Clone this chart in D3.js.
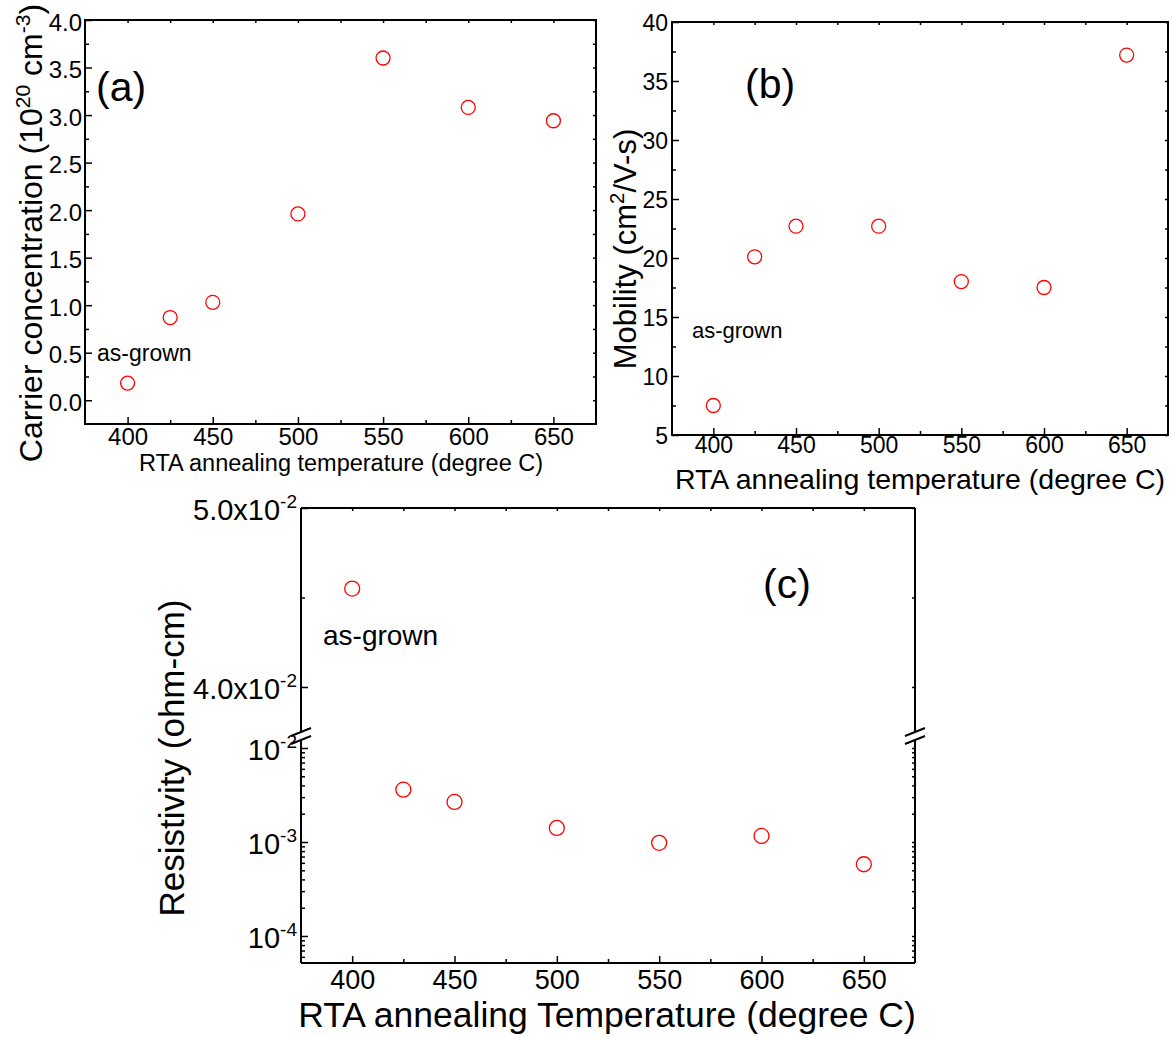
<!DOCTYPE html>
<html>
<head>
<meta charset="utf-8">
<script src="https://cdn.jsdelivr.net/npm/d3@7"></script>
<style>
    body { margin: 0; background: #fff; }
    svg { font-family: "Liberation Sans", Arial, sans-serif; }
    .tick line { stroke: #000; stroke-width: 1.5px; }
</style>
</head>
<body>
<div id="chart"></div>
<script>
// values
const temps = [400, 425, 450, 500, 550, 600, 650];
const carrier = [0.18, 0.87, 1.03, 1.96, 3.60, 3.08, 2.94];      // 10^20 cm^-3
const mobility = [7.5, 20.1, 22.7, 22.7, 18.0, 17.5, 37.2];       // cm2/V-s
const resistivity = [4.55e-2, 3.6e-3, 2.67e-3, 1.41e-3, 9.8e-4, 1.16e-3, 5.8e-4]; // ohm-cm

// tick values
const tempTicks = [400, 450, 500, 550, 600, 650];
const tempMinor = [425, 475, 525, 575, 625];
const carrierTicks = [0, 0.5, 1.0, 1.5, 2.0, 2.5, 3.0, 3.5, 4.0];
const carrierMinor = [0.25, 0.75, 1.25, 1.75, 2.25, 2.75, 3.25, 3.75];
const mobilityTicks = [5, 10, 15, 20, 25, 30, 35, 40];
const mobilityMinor = [7.5, 12.5, 17.5, 22.5, 27.5, 32.5, 37.5];
const resUpperTicks = [0.04, 0.05];
const resUpperMinor = [0.045];
const resLowerTicks = [1e-2, 1e-3, 1e-4];
const resLowerMinor = [6e-5, 7e-5, 8e-5, 9e-5,
    2e-4, 3e-4, 4e-4, 5e-4, 6e-4, 7e-4, 8e-4, 9e-4,
    2e-3, 3e-3, 4e-3, 5e-3, 6e-3, 7e-3, 8e-3, 9e-3];

const svg = d3.select("#chart").append("svg")
    .attr("width", 1172)
    .attr("height", 1037)

// draw an axis with inward ticks, no domain line
function addAxis(g, axis, transform, size, fontSize, pad, fmt) {
    let a = g.append("g")
        .attr("transform", transform)
        .call(axis.tickSize(-size).tickSizeOuter(0).tickPadding(pad).tickFormat(fmt))
    a.select(".domain").remove()
    a.attr("font-family", null).attr("font-size", fontSize)
    a.selectAll("text").attr("fill", "#000")
    return a
}

// rotated title with superscripts; parts = [[text, isSup], ...]
function addRichText(g, x, y, rotate, size, parts, anchor) {
    let t = g.append("text")
        .attr("transform", `translate(${x},${y}) rotate(${rotate})`)
        .attr("text-anchor", anchor || "middle")
        .attr("font-size", size)
    let raised = false
    parts.forEach(p => {
        let shift = 0
        if (p[1] && !raised) { shift = -size * 0.38; raised = true }
        else if (!p[1] && raised) { shift = size * 0.38; raised = false }
        t.append("tspan")
            .attr("dy", shift)
            .attr("font-size", p[1] ? size * 0.66 : size)
            .text(p[0])
    })
    return t
}

class ScatterPanel {
    constructor(cfg) {
        this.cfg = cfg
        this.initVis()
    }

    initVis() {
        let vis = this
        let c = vis.cfg

        vis.g = svg.append("g")
        vis.x = d3.scaleLinear().domain([375, 675]).range([c.left, c.right])
        vis.y = d3.scaleLinear().domain(c.yDomain).range([c.bottom, c.top])

        // frame
        vis.g.append("rect")
            .attr("x", c.left).attr("y", c.top)
            .attr("width", c.right - c.left).attr("height", c.bottom - c.top)
            .attr("fill", "none").attr("stroke", "#000").attr("stroke-width", 2)

        // bottom axis, major + minor
        addAxis(vis.g, d3.axisBottom(vis.x).tickValues(tempTicks), `translate(0,${c.bottom})`, 7, c.tickFont, c.xPad, d3.format("d"))
        addAxis(vis.g, d3.axisBottom(vis.x).tickValues(tempMinor), `translate(0,${c.bottom})`, 4, c.tickFont, 0, () => "")
        // top mirror
        addAxis(vis.g, d3.axisTop(vis.x).tickValues(tempTicks.concat(tempMinor)), `translate(0,${c.top})`, 3, c.tickFont, 0, () => "")

        // left axis
        let yl = addAxis(vis.g, d3.axisLeft(vis.y).tickValues(c.yTicks), `translate(${c.left},0)`, 7, c.tickFont, c.yPad, c.yFormat)
        yl.selectAll("text").attr("dy", c.yDy)
        addAxis(vis.g, d3.axisLeft(vis.y).tickValues(c.yMinor), `translate(${c.left},0)`, 4, c.tickFont, 0, () => "")
        // right mirror
        addAxis(vis.g, d3.axisRight(vis.y).tickValues(c.yTicks.concat(c.yMinor)), `translate(${c.right},0)`, 3, c.tickFont, 0, () => "")

        // points
        vis.g.selectAll(".pt")
            .data(c.values)
            .enter()
            .append("circle")
            .attr("class", "pt")
            .attr("cx", (d, i) => vis.x(temps[i]))
            .attr("cy", d => vis.y(d))
            .attr("r", 7)
            .attr("fill", "none")
            .attr("stroke", "#ff0000")
            .attr("stroke-width", 1.3)

        // x title
        vis.g.append("text")
            .attr("x", c.xTitle[0]).attr("y", c.xTitle[1])
            .attr("text-anchor", "middle")
            .attr("font-size", c.xTitle[2])
            .text(c.xTitleText)

        // y title
        addRichText(vis.g, c.yTitle[0], c.yTitle[1], -90, c.yTitle[2], c.yTitleParts)

        // panel tag and as-grown note
        vis.g.append("text")
            .attr("x", c.tag[0]).attr("y", c.tag[1])
            .attr("font-size", 41)
            .text(c.tagText)
        vis.g.append("text")
            .attr("x", c.note[0]).attr("y", c.note[1])
            .attr("font-size", c.note[2])
            .text("as-grown")
    }
}

// panel (a)
new ScatterPanel({
    left: 85, right: 596, top: 20, bottom: 424,
    yDomain: [-0.25, 4.0],
    yTicks: carrierTicks, yMinor: carrierMinor, yFormat: d3.format(".1f"),
    values: carrier,
    tickFont: 24, xPad: 4, yPad: 3, yDy: "0.42em",
    xTitle: [341, 471, 23.5], xTitleText: "RTA annealing temperature (degree C)",
    yTitle: [42, 233, 32],
    yTitleParts: [["Carrier concentration (10", false], ["20", true], [" cm", false], ["-3", true], [")", false]],
    tag: [96, 101], tagText: "(a)",
    note: [97, 361, 23]
})

// panel (b)
new ScatterPanel({
    left: 672, right: 1168, top: 22, bottom: 435,
    yDomain: [5, 40],
    yTicks: mobilityTicks, yMinor: mobilityMinor, yFormat: d3.format("d"),
    values: mobility,
    tickFont: 23, xPad: 2, yPad: 4, yDy: "0.36em",
    xTitle: [920, 489, 28.5], xTitleText: "RTA annealing temperature (degree C)",
    yTitle: [636, 249, 31],
    yTitleParts: [["Mobility (cm", false], ["2", true], ["/V-s)", false]],
    tag: [745, 98], tagText: "(b)",
    note: [692, 338, 22]
})

// panel (c): broken y axis, linear on top, log below
const pc = {left: 301, right: 915, top: 508, bottom: 963, brkTop: 732, brkBot: 740}
const gc = svg.append("g")
const xC = d3.scaleLinear().domain([375, 675]).range([pc.left, pc.right])
const yUp = d3.scaleLinear().domain([0.04, 0.05]).range([687, pc.top])
const yLo = d3.scaleLog().domain([1e-4, 1e-2]).range([936, 748])

// frame pieces
const frame = [
    [[pc.left, pc.top], [pc.right, pc.top]],
    [[pc.left, pc.bottom], [pc.right, pc.bottom]],
    [[pc.left, pc.top], [pc.left, pc.brkTop]],
    [[pc.left, pc.brkBot], [pc.left, pc.bottom]],
    [[pc.right, pc.top], [pc.right, pc.brkTop]],
    [[pc.right, pc.brkBot], [pc.right, pc.bottom]]
]
gc.selectAll(".frame")
    .data(frame)
    .enter()
    .append("path")
    .attr("d", d => d3.line()(d))
    .attr("stroke", "#000").attr("stroke-width", 2).attr("fill", "none")

// break marks on both sides
const breaks = []
;[pc.left, pc.right].forEach(bx => {
    [pc.brkTop, pc.brkBot].forEach(by => breaks.push([[bx - 10, by + 4], [bx + 10, by - 4]]))
})
gc.selectAll(".brk")
    .data(breaks)
    .enter()
    .append("path")
    .attr("d", d => d3.line()(d))
    .attr("stroke", "#000").attr("stroke-width", 2).attr("fill", "none")

// x axis
addAxis(gc, d3.axisBottom(xC).tickValues(tempTicks), `translate(0,${pc.bottom})`, 7, 27, 7, d3.format("d"))
addAxis(gc, d3.axisBottom(xC).tickValues(tempMinor), `translate(0,${pc.bottom})`, 4, 27, 0, () => "")
addAxis(gc, d3.axisTop(xC).tickValues(tempTicks.concat(tempMinor)), `translate(0,${pc.top})`, 3, 27, 0, () => "")

// y axes (left labelled, right mirrored)
let upAx = addAxis(gc, d3.axisLeft(yUp).tickValues(resUpperTicks), `translate(${pc.left},0)`, 7, 29, 4, () => "")
addAxis(gc, d3.axisLeft(yUp).tickValues(resUpperMinor), `translate(${pc.left},0)`, 4, 29, 0, () => "")
let loAx = addAxis(gc, d3.axisLeft(yLo).tickValues(resLowerTicks), `translate(${pc.left},0)`, 7, 29, 4, () => "")
addAxis(gc, d3.axisLeft(yLo).tickValues(resLowerMinor), `translate(${pc.left},0)`, 4, 29, 0, () => "")
addAxis(gc, d3.axisRight(yUp).tickValues(resUpperTicks.concat(resUpperMinor)), `translate(${pc.right},0)`, 3, 29, 0, () => "")
addAxis(gc, d3.axisRight(yLo).tickValues(resLowerTicks.concat(resLowerMinor)), `translate(${pc.right},0)`, 3, 29, 0, () => "")

upAx.selectAll("text").attr("dy", "0.4em").each(function (d) {
    let t = d3.select(this)
    let exp = Math.floor(Math.log10(d))
    t.append("tspan").text((d / Math.pow(10, exp)).toFixed(1) + "x10")
    t.append("tspan").attr("dy", -12).attr("font-size", 19).text(exp)
})
loAx.selectAll("text").attr("dy", "0.4em").each(function (d) {
    let t = d3.select(this)
    t.append("tspan").text("10")
    t.append("tspan").attr("dy", -12).attr("font-size", 19).text(Math.round(Math.log10(d)))
})

// points
gc.selectAll(".pt")
    .data(resistivity)
    .enter()
    .append("circle")
    .attr("cx", (d, i) => xC(temps[i]))
    .attr("cy", d => d > 0.02 ? yUp(d) : yLo(d))
    .attr("r", 7.5)
    .attr("fill", "none")
    .attr("stroke", "#ff0000")
    .attr("stroke-width", 1.3)

gc.append("text")
    .attr("x", 607).attr("y", 1027)
    .attr("text-anchor", "middle")
    .attr("font-size", 35.5)
    .text("RTA annealing Temperature (degree C)")

addRichText(gc, 184, 758, -90, 35, [["Resistivity (ohm-cm)", false]])

gc.append("text").attr("x", 763).attr("y", 598).attr("font-size", 41).text("(c)")
gc.append("text").attr("x", 323).attr("y", 645).attr("font-size", 28).text("as-grown")
</script>
</body>
</html>
